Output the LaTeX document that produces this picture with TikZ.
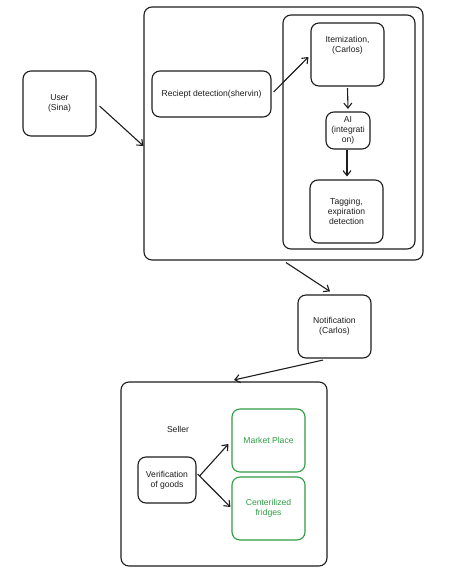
\documentclass[tikz,border=0pt]{standalone}
\usepackage{fontspec}
\setmainfont{Liberation Sans}
\usetikzlibrary{arrows.meta}
\definecolor{exgreen}{RGB}{47,158,68}
\definecolor{exink}{RGB}{30,30,30}
\tikzset{
  box/.style={draw=exink, line width=1.1pt, rounded corners=8pt, inner sep=1pt,
    align=center, font=\fontsize{8.6}{10}\selectfont, text=exink},
  greenbox/.style={box, draw=exgreen, text=exgreen},
  arr/.style={draw=exink, line width=1.1pt, -{Straight Barb[length=5pt,width=8pt]}},
  lbl/.style={font=\fontsize{8.6}{10}\selectfont, text=exink}
}
\begin{document}
\begin{tikzpicture}[x=1pt,y=-1pt]
\useasboundingbox[fill=white] (0,0) rectangle (463,573);
% containers
\node[box, minimum width=279pt, minimum height=253pt] (outer) at (283.5,133.5) {};
\node[box, minimum width=132pt, minimum height=234pt] (inner) at (349,132) {};
\node[box, minimum width=206pt, minimum height=184pt] (seller) at (224,474) {};
% nodes
\node[box, minimum width=73pt, minimum height=65pt] (user) at (59.5,103.5) {User\\(Sina)};
\node[box, minimum width=119pt, minimum height=46pt] (receipt) at (211.5,94) {Reciept detection(shervin)};
\node[box, minimum width=73pt, minimum height=63pt] (item) at (347.5,54.5) {Itemization,\\(Carlos)\\[10pt]};
\node[box, minimum width=44pt, minimum height=37pt] (ai) at (348,130.5) {AI\\(integrati\\on)};
\node[box, minimum width=73pt, minimum height=63pt] (tag) at (346.5,211.5) {Tagging,\\expiration\\detection};
\node[box, minimum width=73pt, minimum height=63pt] (notif) at (334.5,326.5) {Notification\\(Carlos)};
\node[lbl] (sellerlbl) at (178,429) {Seller};
\node[box, minimum width=58pt, minimum height=46pt] (verif) at (167,480) {Verification\\of goods};
\node[greenbox, minimum width=73pt, minimum height=63pt] (market) at (268.5,440.5) {Market Place};
\node[greenbox, minimum width=73pt, minimum height=63pt] (fridge) at (268.5,508.5) {Centerilized\\fridges};
% connectors
\draw[arr] ([shift={(3pt,-2.5pt)}]user.east) -- ([yshift=-12.5pt]outer.west);
\draw[arr] ([shift={(2pt,2pt)}]receipt.east) -- ([shift={(-2pt,-2.5pt)}]item.west);
\draw[arr] ([yshift=-1.5pt]item.south) -- ([yshift=2.5pt]ai.north);
\draw[arr] ([xshift=-1pt]ai.south) -- ([shift={(0.5pt,3pt)}]tag.north);
\draw[arr] ([shift={(2.5pt,-2pt)}]outer.south) -- ([shift={(-4.5pt,3pt)}]notif.north);
\draw[arr] ([shift={(-11.5pt,-1.5pt)}]notif.south) -- ([shift={(10pt,1.5pt)}]seller.north);
\draw[arr] ([shift={(3pt,4pt)}]verif.east) -- ([shift={(-3pt,-3.5pt)}]market.west);
\draw[arr] ([shift={(1pt,6pt)}]verif.east) -- ([shift={(-1pt,1.5pt)}]fridge.west);
\end{tikzpicture}
\end{document}
